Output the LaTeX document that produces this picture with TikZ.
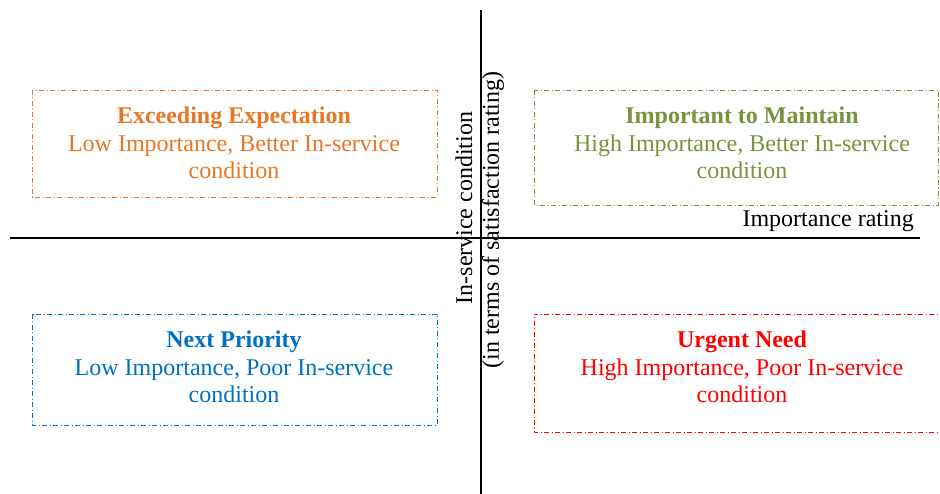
\documentclass[tikz,border=0pt]{standalone}
\usepackage{fontspec}
\setmainfont{Liberation Serif}
\usetikzlibrary{calc}
\definecolor{qorange}{RGB}{232,118,34}
\definecolor{qgreen}{RGB}{119,147,60}
\definecolor{qblue}{RGB}{0,112,192}
\definecolor{qred}{RGB}{255,0,0}

\begin{document}
\begin{tikzpicture}[line join=round,x=1pt,y=-1pt]
\tikzset{every node/.style={font=\fontsize{24}{27.5}\selectfont},
  quadbox/.style={line width=0.9pt,dash pattern=on 5pt off 2.5pt on 1pt off 2.5pt},
  quadtext/.style={align=center,inner sep=0pt},
  axis/.style={line width=1.6pt}}
\useasboundingbox (0,0) rectangle (940,494);
% axes
\coordinate (xl) at (10,238);
\coordinate (xr) at (920,238);
\coordinate (yt) at (481,10);
\coordinate (yb) at (481,494);
\draw[axis] (xl)--(xr);
\draw[axis] (yt)--(yb);
\path (914,221) node[anchor=east,inner sep=0pt] (xlab) {Importance rating};
\path (464,208) node[rotate=90,inner sep=0pt] (ylab1) {In-service condition};
\path (493,220) node[rotate=90,inner sep=0pt] (ylab2) {(in terms of satisfaction rating)};
% quadrants
\draw[quadbox,qorange] (32,90) rectangle (437,197);
\draw[quadbox,qgreen] (534,90) rectangle (938,205);
\draw[quadbox,qblue] (32,314) rectangle (437,425);
\begin{scope}
\clip (0,0) rectangle (940,494);
\draw[quadbox,qred] (945,314)--(534,314)--(534,432)--(945,432);
\end{scope}
\path (234,143) node[quadtext,qorange] (exceed) {\textbf{Exceeding Expectation}\\Low Importance, Better In-service\\condition};
\path (742,143) node[quadtext,qgreen] (maintain) {\textbf{Important to Maintain}\\High Importance, Better In-service\\condition};
\path (234,367) node[quadtext,qblue] (next) {\textbf{Next Priority}\\Low Importance, Poor In-service\\condition};
\path (742,367) node[quadtext,qred] (urgent) {\textbf{Urgent Need}\\High Importance, Poor In-service\\condition};
\end{tikzpicture}
\end{document}
